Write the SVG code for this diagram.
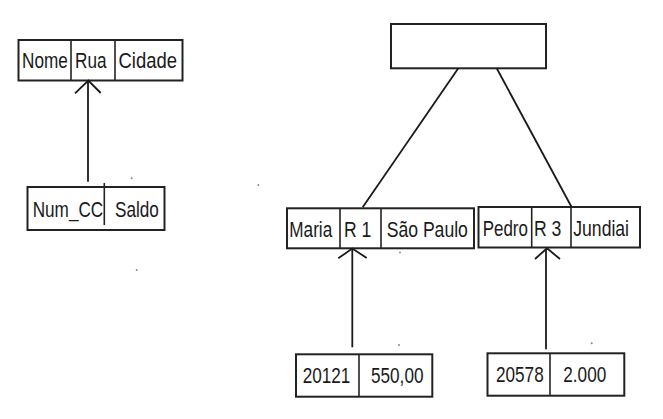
<svg xmlns="http://www.w3.org/2000/svg" width="663" height="419" viewBox="0 0 663 419">
<style>
.box{fill:#fff;stroke:#222;stroke-width:2}
.div{stroke:#222;stroke-width:1.6}
.t{font-family:"Liberation Sans",Arial,sans-serif;font-size:22px;fill:#1a1a1a}
.c{fill:none;stroke:#1a1a1a;stroke-width:1.8}
.dot{fill:#888}
</style>
<rect width="663" height="419" fill="#fff"/>
<g id="endereco">
<rect class="box" x="18.5" y="40" width="164" height="40.5"/>
<line class="div" x1="71" y1="40" x2="71" y2="80.5"/>
<line class="div" x1="115" y1="40" x2="115" y2="80.5"/>
<text class="t" transform="translate(22 68.3) scale(0.78 1)">Nome</text>
<text class="t" transform="translate(75 68.3) scale(0.78 1)">Rua</text>
<text class="t" transform="translate(118.5 68.3) scale(0.84 1)">Cidade</text>
</g>
<g id="conta">
<rect class="box" x="27.5" y="187" width="137" height="43"/>
<line class="div" x1="104.3" y1="183" x2="104.3" y2="225"/>
<text class="t" transform="translate(32.7 216.7) scale(0.78 1)">Num_CC</text>
<text class="t" transform="translate(115 216.7) scale(0.78 1)">Saldo</text>
</g>
<g id="raiz">
<rect class="box" x="391" y="24" width="155" height="44.3"/>
</g>
<g id="maria">
<rect class="box" x="287" y="208.3" width="187" height="40"/>
<line class="div" x1="340" y1="208.3" x2="340" y2="248.3"/>
<line class="div" x1="381" y1="208.3" x2="381" y2="248.3"/>
<text class="t" transform="translate(289.3 236.7) scale(0.78 1)">Maria</text>
<text class="t" transform="translate(344 236.7) scale(0.8 1)">R 1</text>
<text class="t" transform="translate(386.7 236.7) scale(0.8 1)">São Paulo</text>
</g>
<g id="pedro">
<rect class="box" x="478.5" y="207" width="161.5" height="40.5"/>
<line class="div" x1="531.7" y1="207" x2="531.7" y2="247.5"/>
<line class="div" x1="571" y1="207" x2="571" y2="247.5"/>
<text class="t" transform="translate(482.7 236) scale(0.77 1)">Pedro</text>
<text class="t" transform="translate(534 236) scale(0.8 1)">R 3</text>
<text class="t" transform="translate(573.3 236) scale(0.8 1)">Jundiai</text>
</g>
<g id="conta1">
<rect class="box" x="296" y="354.3" width="136.3" height="42.4"/>
<line class="div" x1="359" y1="354.3" x2="359" y2="396.7"/>
<text class="t" transform="translate(302.7 382.7) scale(0.78 1)">20121</text>
<text class="t" transform="translate(371 382.7) scale(0.78 1)">550,00</text>
</g>
<g id="conta2">
<rect class="box" x="487.5" y="353.3" width="136.8" height="42.4"/>
<line class="div" x1="550" y1="353.3" x2="550" y2="395.7"/>
<text class="t" transform="translate(496 381.7) scale(0.78 1)">20578</text>
<text class="t" transform="translate(563.3 381.7) scale(0.78 1)">2.000</text>
</g>
<g id="connectors">
<line class="c" x1="88" y1="181.7" x2="88" y2="81"/>
<polyline class="c" points="75,93.3 88.3,80.5 100.7,93"/>
<line class="c" x1="458.3" y1="68.3" x2="362.7" y2="207.3"/>
<line class="c" x1="496.7" y1="68.3" x2="571.7" y2="207.3"/>
<line class="c" x1="352.3" y1="347.3" x2="352.3" y2="249"/>
<polyline class="c" points="338.3,258.3 352.3,248.5 366.7,258"/>
<line class="c" x1="546" y1="349.3" x2="546" y2="249"/>
<polyline class="c" points="535,259 547,248.3 560,259"/>
</g>
<g id="dots">
<circle class="dot" cx="131.7" cy="178.3" r="1"/>
<circle class="dot" cx="258.3" cy="185" r="1"/>
<circle class="dot" cx="136.7" cy="270" r="1"/>
<circle class="dot" cx="400" cy="252.5" r="0.9"/>
<circle class="dot" cx="399" cy="345" r="1"/>
<circle class="dot" cx="591.7" cy="343.3" r="1"/>
</g>
</svg>
